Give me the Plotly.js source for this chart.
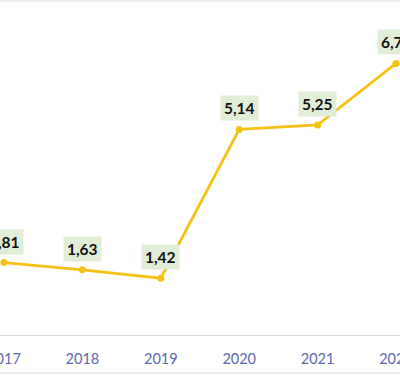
<!DOCTYPE html>
<html>
<head>
<meta charset="utf-8">
<script src="https://cdn.plot.ly/plotly-3.0.1.min.js"></script>
<style>html,body{margin:0;padding:0;background:#fff;}#chart{width:400px;height:375px;}</style>
</head>
<body>
<div id="chart"></div>
<script>
const years = [2017, 2018, 2019, 2020, 2021, 2022];
const values = [1.81, 1.63, 1.42, 5.14, 5.25, 6.79];
const labels = ['1,81', '1,63', '1,42', '5,14', '5,25', '6,79'];

const trace = {
  x: years, y: values, type: 'scatter', mode: 'lines+markers',
  line: {color: '#F5C213', width: 2.8},
  marker: {color: '#F5C213', size: 7},
  cliponaxis: false, hoverinfo: 'none'
};

const annotations = years.map((yr, i) => ({
  x: yr, y: values[i], xref: 'x', yref: 'y',
  text: '<b>' + labels[i] + '</b>', showarrow: false,
  yshift: 21, bgcolor: '#E2EDD8', borderpad: 3,
  font: {family: 'Lato, sans-serif', size: 15.5, color: '#111'}
}));

const layout = {
  width: 400, height: 375,
  margin: {l: 0, r: 0, t: 0, b: 40},
  paper_bgcolor: '#fff', plot_bgcolor: '#fff',
  showlegend: false,
  xaxis: {
    range: [2016.949, 2022.051], tickvals: years, ticktext: years.map(String),
    showgrid: false, zeroline: false, showline: true, linecolor: '#DADADA', linewidth: 1,
    ticks: '', ticklabelstandoff: 11, ticklabeloverflow: 'allow',
    tickfont: {family: 'Lato, sans-serif', size: 14.5, color: '#5A68B0'}
  },
  yaxis: {
    range: [0, 8.375], showgrid: false, zeroline: false, showticklabels: false, showline: false
  },
  annotations: annotations,
  shapes: [
    {type: 'line', xref: 'paper', yref: 'paper', x0: 0, x1: 1, y0: 1 - 1/335, y1: 1 - 1/335, line: {color: '#DADADA', width: 1}},
    {type: 'line', xref: 'paper', yref: 'paper', x0: 0, x1: 1, y0: -38/335, y1: -38/335, line: {color: '#DADADA', width: 1}}
  ]
};

Plotly.newPlot('chart', [trace], layout, {displayModeBar: false, staticPlot: true});
</script>
</body>
</html>
